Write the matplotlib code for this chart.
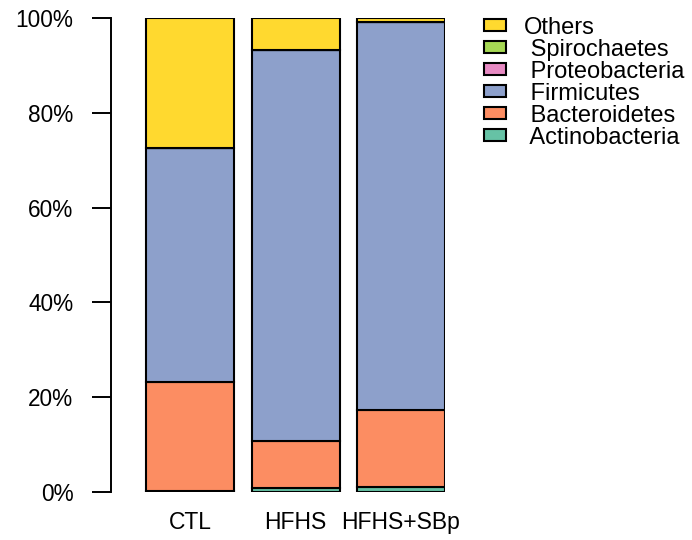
import numpy as np
import matplotlib
matplotlib.use("Agg")
import matplotlib.pyplot as plt

plt.rcParams['font.family'] = ['Liberation Sans', 'DejaVu Sans']

groups = ["CTL", "HFHS", "HFHS+SBp"]
phyla = ["Actinobacteria", "Bacteroidetes", "Firmicutes",
         "Proteobacteria", "Spirochaetes", "Others"]
# relative abundance (%) per group, bottom to top
actinobacteria = [0.2, 0.8, 1.1]
bacteroidetes = [23.0, 10.0, 16.2]
firmicutes = [49.3, 82.4, 81.8]
proteobacteria = [0.1, 0.1, 0.1]
spirochaetes = [0.0, 0.0, 0.0]
others = [27.4, 6.7, 0.8]

colors = ["#66C2A5", "#FC8D62", "#8DA0CB", "#E78AC3", "#A6D854", "#FFD92F"]

series = [actinobacteria, bacteroidetes, firmicutes,
          proteobacteria, spirochaetes, others]

fig = plt.figure(figsize=(6.92, 5.4), dpi=100)
ax = fig.add_axes([0.1604, 0.0889, 0.4827, 0.8778])

x = np.arange(len(groups))
bottom = np.zeros(len(groups))
handles = []
for vals, col, name in zip(series, colors, phyla):
    vals = np.array(vals) / 100.0
    b = ax.bar(x, vals, width=0.834, bottom=bottom, color=col,
               edgecolor="black", linewidth=1.5, label=name)
    handles.append(b)
    bottom += vals

ax.set_xlim(-0.749, 2.417)
ax.set_ylim(0, 1)
for s in ["top", "right", "bottom"]:
    ax.spines[s].set_visible(False)
ax.spines["left"].set_linewidth(1.4)
ax.set_yticks(np.linspace(0, 1, 6))
ax.set_yticklabels(["0%", "20%", "40%", "60%", "80%", "100%"], fontsize=16.3)
ax.tick_params(axis="y", length=13.5, width=1.4, pad=13.5)
ax.set_xticks(x)
ax.set_xticklabels(groups, fontsize=16.5)
ax.tick_params(axis="x", length=0, pad=14)

labels = ["Others"] + [" " + p for p in phyla[-2::-1]]
leg = fig.legend(handles[::-1], labels, loc="upper left",
                 bbox_to_anchor=(0.675, 1.0), frameon=False,
                 fontsize=17, handlelength=0.95, handleheight=0.4,
                 handletextpad=0.75, labelspacing=0.0, borderpad=0.2)

fig.savefig("out.png", dpi=100)
